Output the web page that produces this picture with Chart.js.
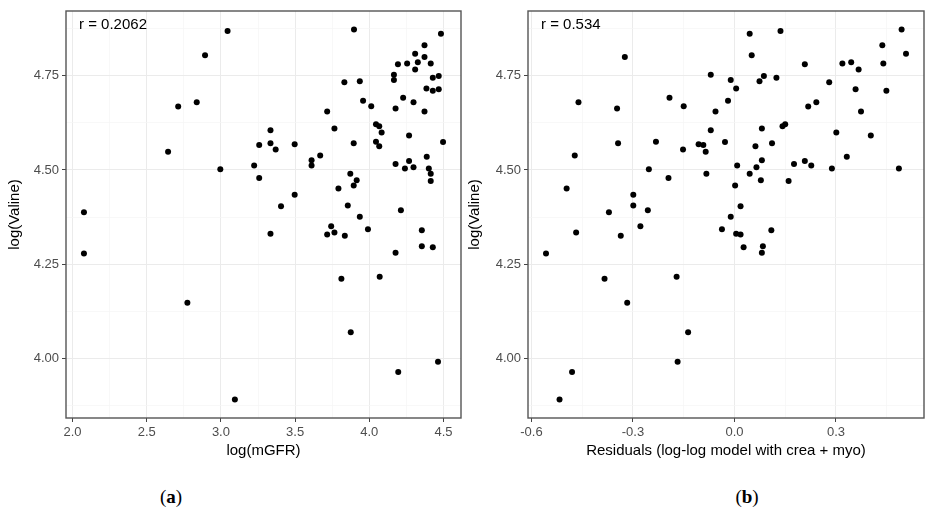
<!DOCTYPE html>
<html>
<head>
<meta charset="utf-8">
<script src="https://cdn.jsdelivr.net/npm/chart.js@4/dist/chart.umd.min.js"></script>
<style>
  html, body { margin: 0; padding: 0; background: #fff; }
  #wrap { position: relative; width: 927px; height: 516px; overflow: hidden; }
  .panel { position: absolute; top: 0; height: 470px; }
  .cap { position: absolute; top: 486px; font-family: "Liberation Serif", "DejaVu Serif", serif; font-size: 19px; transform: translateX(-50%); color: #000; }
</style>
</head>
<body>
<div id="wrap">
  <div class="panel" style="left:0;width:464px"><canvas id="chartA" width="464" height="470"></canvas></div>
  <div class="panel" style="left:464px;width:463px"><canvas id="chartB" width="463" height="470"></canvas></div>
  <div class="cap" style="left:171px">(<b>a</b>)</div>
  <div class="cap" style="left:747px">(<b>b</b>)</div>
</div>
<script>
// ==========================
// DATA (same patients in both panels, sorted by valine)
// ==========================
const valine = [
  4.872, 4.868, 4.861, 4.830, 4.808, 4.804, 4.799, 4.785, 4.782, 4.782,
  4.780, 4.766, 4.752, 4.749, 4.744, 4.738, 4.735, 4.732, 4.716, 4.714,
  4.710, 4.691, 4.683, 4.679, 4.679, 4.669, 4.668, 4.663, 4.655, 4.655,
  4.621, 4.616, 4.610, 4.605, 4.599, 4.591, 4.575, 4.574, 4.571, 4.571,
  4.568, 4.566, 4.563, 4.554, 4.548, 4.538, 4.535, 4.526, 4.524, 4.516,
  4.512, 4.512, 4.507, 4.504, 4.504, 4.502, 4.490, 4.490, 4.479, 4.473,
  4.471, 4.459, 4.451, 4.434, 4.406, 4.404, 4.393, 4.388, 4.376, 4.351,
  4.343, 4.340, 4.334, 4.331, 4.329, 4.326, 4.298, 4.295, 4.281, 4.279,
  4.217, 4.212, 4.148, 4.070, 3.992, 3.965, 3.892
];
const mgfr = [
  3.897, 3.045, 4.483, 4.372, 4.309, 2.893, 4.372, 4.327, 4.414, 4.255,
  4.193, 4.309, 4.166, 4.468, 4.428, 4.166, 3.936, 3.832, 4.385, 4.468,
  4.428, 4.228, 3.958, 2.837, 4.298, 4.013, 2.712, 4.177, 3.716, 4.372,
  4.045, 4.067, 3.765, 3.334, 4.083, 4.268, 4.045, 4.497, 3.334, 3.895,
  3.497, 3.258, 4.067, 3.369, 2.644, 3.669, 4.387, 3.611, 4.268, 4.177,
  3.611, 3.224, 4.298, 4.240, 4.401, 2.996, 4.414, 3.872, 3.258, 3.915,
  4.414, 3.895, 3.792, 3.497, 3.855, 3.405, 4.213, 2.077, 3.936, 3.743,
  3.991, 4.354, 3.765, 3.334, 3.716, 3.835, 4.354, 4.428, 4.177, 2.077,
  4.070, 3.812, 2.774, 3.875, 4.463, 4.195, 3.094
];
const residuals = [
  0.494, 0.136, 0.045, 0.437, 0.507, 0.051, -0.324, 0.345, 0.319, 0.440,
  0.208, 0.367, -0.070, 0.087, 0.124, -0.011, 0.074, 0.280, 0.005, 0.358,
  0.449, -0.192, -0.019, -0.461, 0.242, -0.150, 0.218, -0.347, -0.056, 0.374,
  0.150, 0.142, 0.081, -0.070, 0.301, 0.403, -0.232, -0.028, -0.344, 0.111,
  -0.106, -0.092, 0.062, -0.152, -0.085, -0.472, 0.332, 0.081, 0.208, 0.176,
  0.008, 0.227, 0.065, 0.288, 0.486, -0.253, -0.083, 0.045, -0.195, 0.078,
  0.160, 0.002, -0.496, -0.299, -0.299, 0.018, -0.256, -0.371, -0.011, -0.278,
  -0.037, 0.109, -0.468, 0.005, 0.018, -0.336, 0.084, 0.027, 0.081, -0.557,
  -0.171, -0.384, -0.317, -0.137, -0.168, -0.480, -0.517
];
const valineTicks = [4.00, 4.25, 4.50, 4.75];
const mgfrTicks = [2.0, 2.5, 3.0, 3.5, 4.0, 4.5];
const residTicks = [-0.6, -0.3, 0.0, 0.3];
const corrA = 'r = 0.2062';
const corrB = 'r = 0.534';

const SANS = '"Liberation Sans", Arial, sans-serif';

// ggplot style: data range expanded by 5% on each side
function expand(vals) {
  const lo = Math.min(...vals), hi = Math.max(...vals);
  const pad = (hi - lo) * 0.05;
  return [lo - pad, hi + pad];
}

// major ticks plus the minor ones half way between
function withMinor(major, lo, hi) {
  const step = major[1] - major[0];
  const out = [];
  for (let k = -1; k <= major.length; k++) {
    const v = +(major[0] + k * step).toFixed(4);
    const m = +(v + step / 2).toFixed(4);
    if (v >= lo && v <= hi) out.push({ value: v, minor: false });
    if (m >= lo && m <= hi) out.push({ value: m, minor: true });
  }
  return out;
}

const isMinor = c => c.tick && c.tick.minor;

const panelBox = {
  id: 'panelBox',
  afterDraw(chart, args, opts) {
    const { ctx, chartArea: a } = chart;
    ctx.save();
    ctx.strokeStyle = '#555';
    ctx.lineWidth = 1.4;
    ctx.strokeRect(a.left, a.top, a.right - a.left, a.bottom - a.top);
    ctx.fillStyle = '#000';
    ctx.font = '15px ' + SANS;
    ctx.textBaseline = 'middle';
    ctx.fillText(opts.text, a.left + 13, a.top + 14);
    ctx.restore();
  }
};

function makePanel(id, xs, xTicks, digits, xTitle, note, yWidth, yTitlePad, padRight) {
  const xr = expand(xs);
  const yr = expand(valine);
  const axisGrid = {
    color: c => isMinor(c) ? '#f5f5f5' : '#ebebeb',
    lineWidth: c => isMinor(c) ? 0.7 : 1,
    tickLength: 4,
    tickColor: c => isMinor(c) ? 'rgba(0,0,0,0)' : '#444'
  };
  const tickFont = { family: SANS, size: 13 };

  new Chart(document.getElementById(id), {
    type: 'scatter',
    data: {
      datasets: [{
        data: xs.map((x, i) => ({ x, y: valine[i] })),
        backgroundColor: '#000',
        borderWidth: 0,
        pointRadius: 3,
        pointHoverRadius: 3
      }]
    },
    options: {
      responsive: false,
      animation: false,
      events: [],
      layout: { padding: { top: 11, right: padRight, left: 0, bottom: 0 } },
      plugins: {
        legend: { display: false },
        tooltip: { enabled: false },
        panelBox: { text: note }
      },
      scales: {
        x: {
          type: 'linear',
          min: xr[0],
          max: xr[1],
          afterBuildTicks: s => { s.ticks = withMinor(xTicks, xr[0], xr[1]); },
          afterFit: s => { s.height = 52; },
          grid: axisGrid,
          border: { display: false },
          ticks: {
            autoSkip: false, maxRotation: 0, padding: 3, color: '#4d4d4d', font: tickFont,
            callback: (v, i, t) => t[i].minor ? '' : v.toFixed(digits)
          },
          title: {
            display: true, text: xTitle, color: '#000',
            font: { family: SANS, size: 15 }, padding: { top: 0, bottom: 10 }
          }
        },
        y: {
          type: 'linear',
          min: yr[0],
          max: yr[1],
          afterBuildTicks: s => { s.ticks = withMinor(valineTicks, yr[0], yr[1]); },
          afterFit: s => { s.width = yWidth; },
          grid: axisGrid,
          border: { display: false },
          ticks: {
            autoSkip: false, padding: 3, color: '#4d4d4d', font: tickFont,
            callback: (v, i, t) => t[i].minor ? '' : v.toFixed(2)
          },
          title: {
            display: true, text: 'log(Valine)', color: '#000',
            font: { family: SANS, size: 15 }, padding: { top: yTitlePad, bottom: 0 }
          }
        }
      }
    },
    plugins: [panelBox]
  });
}

makePanel('chartA', mgfr, mgfrTicks, 1, 'log(mGFR)', corrA, 66, 6, 2);
makePanel('chartB', residuals, residTicks, 1, 'Residuals (log-log model with crea + myo)', corrB, 64, 2, 3);
</script>
</body>
</html>
